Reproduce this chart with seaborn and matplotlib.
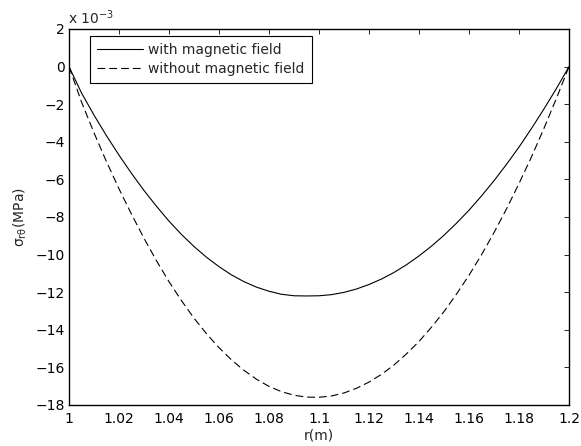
import numpy as np
import pandas as pd
import seaborn as sns
from matplotlib import pyplot as plt
from matplotlib.ticker import FuncFormatter

# radius (m), values every 0.005 m
r = [1.000, 1.005, 1.010, 1.015, 1.020, 1.025, 1.030, 1.035, 1.040, 1.045,
     1.050, 1.055, 1.060, 1.065, 1.070, 1.075, 1.080, 1.085, 1.090, 1.095,
     1.100, 1.105, 1.110, 1.115, 1.120, 1.125, 1.130, 1.135, 1.140, 1.145,
     1.150, 1.155, 1.160, 1.165, 1.170, 1.175, 1.180, 1.185, 1.190, 1.195,
     1.200]

# shear stress in units of 1e-3 MPa
s_with = [0.0, -1.40, -2.58, -3.68, -4.71, -5.68, -6.59, -7.43, -8.22, -8.93,
          -9.57, -10.14, -10.64, -11.08, -11.44, -11.73, -11.95, -12.11, -12.19, -12.20,
          -12.19, -12.13, -12.01, -11.83, -11.59, -11.30, -10.95, -10.54, -10.07, -9.55,
          -8.97, -8.33, -7.64, -6.88, -6.07, -5.20, -4.28, -3.29, -2.25, -1.16,
          0.0]
s_without = [0.0, -1.88, -3.52, -5.06, -6.50, -7.85, -9.13, -10.33, -11.44, -12.45,
             -13.38, -14.21, -14.95, -15.60, -16.16, -16.63, -17.01, -17.29, -17.48, -17.58,
             -17.59, -17.52, -17.36, -17.11, -16.78, -16.37, -15.87, -15.28, -14.62, -13.86,
             -13.03, -12.10, -11.10, -10.01, -8.83, -7.57, -6.22, -4.80, -3.28, -1.68,
             0.0]

x_ticks = [1.0, 1.02, 1.04, 1.06, 1.08, 1.1, 1.12, 1.14, 1.16, 1.18, 1.2]
y_ticks = [-18, -16, -14, -12, -10, -8, -6, -4, -2, 0, 2]

sns.set_style("white")
plt.rcParams['font.family'] = ['DejaVu Sans']
plt.rcParams['mathtext.default'] = 'regular'

fig = plt.figure(figsize=(5.81, 4.46), dpi=100)
ax = fig.add_axes([69/581, 41/446, 500/581, 376/446])

df = pd.DataFrame({'r': r + r,
                   's': s_with + s_without,
                   'case': ['with magnetic field'] * len(r) + ['without magnetic field'] * len(r)})

sns.lineplot(data=df, x='r', y='s', style='case', ax=ax, color='black',
             linewidth=0.8, estimator=None,
             dashes={'with magnetic field': '', 'without magnetic field': (7, 3.6)})

ax.set_xlim(1.0, 1.2)
ax.set_ylim(-18, 2)
ax.set_xticks(x_ticks)
ax.set_yticks(y_ticks)
ax.xaxis.set_major_formatter(FuncFormatter(lambda v, p: '{:g}'.format(round(v, 2))))
ax.yaxis.set_major_formatter(FuncFormatter(lambda v, p: '{:g}'.format(v).replace('-', '\u2212')))
ax.tick_params(direction='in', top=True, right=True, length=3.5, width=0.6,
               labelsize=10, colors='black')
ax.tick_params(axis='x', pad=5)
ax.tick_params(axis='y', pad=3)
for sp in ax.spines.values():
    sp.set_color('black')
    sp.set_linewidth(1.0)

ax.set_xlabel('r(m)', fontsize=10, labelpad=2)
ax.set_ylabel('σ$_{rθ}$(MPa)', fontsize=10, labelpad=5)

fig.text(68/581, 1 - 18/446, 'x 10$^{-3}$', fontsize=10, ha='left', va='center')

leg = ax.legend(loc='upper left', bbox_to_anchor=(0.042, 0.981), fontsize=10,
                handlelength=3.3, handletextpad=0.4, borderpad=0.5,
                labelspacing=0.35, fancybox=False, framealpha=1,
                edgecolor='black', borderaxespad=0, title=None)
leg.get_frame().set_linewidth(0.8)

fig.savefig('out.png', dpi=100)
